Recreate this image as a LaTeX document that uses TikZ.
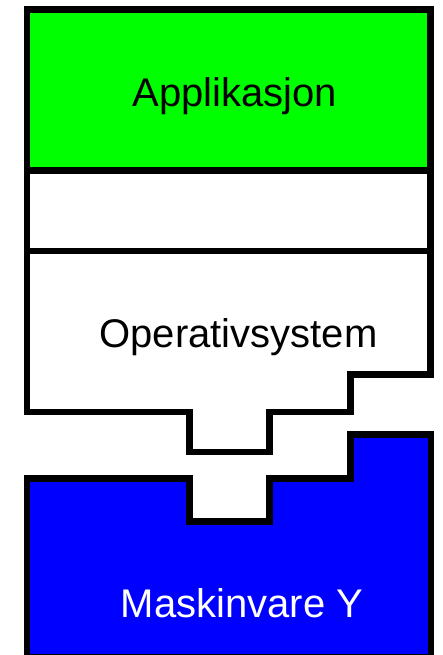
\documentclass[tikz,border=0pt]{standalone}
\usepackage{fontspec}
\setmainfont{Liberation Sans}
\begin{document}
\begin{tikzpicture}[x=1pt,y=-1pt,
  layer/.style={draw=black,line width=6.5pt,line join=miter},
  label/.style={anchor=base,inner sep=0pt,font=\fontsize{40}{48}\selectfont}]
\useasboundingbox (0,0) rectangle (443,655);
% application layer
\draw[layer,fill={rgb,255:red,0;green,255;blue,0}] (27,9.5) rectangle (430.5,170.5);
% empty interface layer
\draw[layer,fill=white] (27,170.5) rectangle (430.5,251);
% operating system with its connector shape
\draw[layer,fill=white] (27,251) -- (430.5,251) -- (430.5,374.5) -- (350.5,374.5)
  -- (350.5,412) -- (269.5,412) -- (269.5,452) -- (189.5,452) -- (189.5,412)
  -- (27,412) -- cycle;
% hardware with its socket shape
\draw[layer,fill={rgb,255:red,0;green,0;blue,255}] (27,657) -- (27,478.5) -- (189.5,478.5)
  -- (189.5,521.5) -- (269.5,521.5) -- (269.5,478.5) -- (350.5,478.5)
  -- (350.5,434.5) -- (431,434.5) -- (431,657) -- cycle;
\node[label] (app) at (235,107) {Applikasjon};
\node[label] (os) at (238.5,347) {Operativsystem};
\node[label,text=white] (hw) at (242,617) {Maskinvare Y};
\end{tikzpicture}
\end{document}
